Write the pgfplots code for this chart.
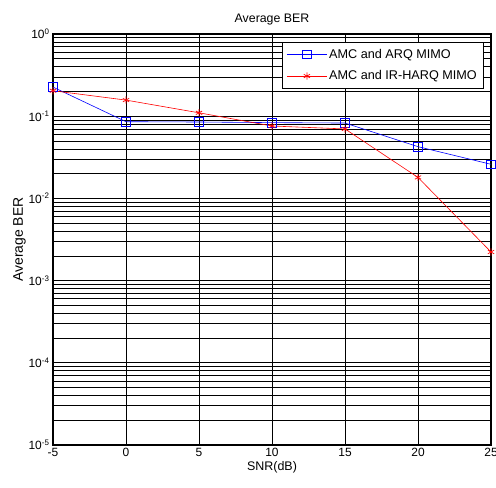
\documentclass[border=0pt]{standalone}
\usepackage{fontspec}
\setmainfont{Liberation Sans}
\usepackage{pgfplots}
\pgfplotsset{compat=1.18}

\begin{document}
\begin{tikzpicture}[x=1bp,y=1bp]
  \begin{axis}[
    name=ax,
    scale only axis,
    width=438bp,
    height=411bp,
    ymode=log,
    xmin=-5, xmax=25,
    ymin=1e-5, ymax=1,
    xtick={-5,0,5,10,15,20,25},
    ytick={1e-5,1e-4,1e-3,1e-2,1e-1,1},
    yticklabels={10\textsuperscript{-5},10\textsuperscript{-4},10\textsuperscript{-3},10\textsuperscript{-2},10\textsuperscript{-1},10\textsuperscript{0}},
    /pgf/number format/assume math mode=true,
    ticklabel style={font=\fontsize{12}{14}\selectfont},
    tick align=inside,
    major tick length=0pt,
    minor tick length=0pt,
    xmajorgrids, ymajorgrids, yminorgrids,
    major grid style={black, line width=0.9pt},
    minor grid style={black, line width=0.7pt},
    axis line style={black, line width=1.3pt},
    title={Average BER},
    title style={font=\fontsize{12.4}{14}\selectfont, yshift=-1bp},
    xlabel={SNR(dB)},
    ylabel={Average BER},
    xlabel style={font=\fontsize{12.5}{14}\selectfont, yshift=2bp},
    ylabel style={font=\fontsize{14}{16}\selectfont, yshift=-4bp},
    legend style={at={(0.982,0.981)}, anchor=north east, draw=black, line width=0.6pt,
      fill=white, font=\fontsize{12.7}{15}\selectfont, row sep=7bp,
      inner xsep=4bp, inner ysep=5bp},
    legend cell align=left,
    legend image code/.code={
      \draw[mark repeat=2, mark phase=2] plot coordinates {(0bp,0bp) (20bp,0bp) (40bp,0bp)};
    },
  ]
    \addplot[blue, line width=0.6pt, mark=square, mark size=4.3bp,
      mark options={solid, line width=0.6pt}] coordinates {
      (-5,0.226)
      (0,0.0857)
      (5,0.0850)
      (10,0.0835)
      (15,0.0826)
      (20,0.0426)
      (25,0.0260)
    };
    \addlegendentry{AMC and ARQ MIMO}
    \addplot[red, line width=0.6pt, mark=asterisk, mark size=3.6bp,
      mark options={solid, line width=0.7pt}] coordinates {
      (-5,0.204)
      (0,0.157)
      (5,0.110)
      (10,0.076)
      (15,0.070)
      (20,0.0180)
      (25,0.00223)
    };
    \addlegendentry{AMC and IR-HARQ MIMO}
  \end{axis}
  \path (ax.south west) ++(-53bp,-43bp) coordinate (bl);
  \path (ax.north east) ++(5bp,34bp) coordinate (tr);
  \pgfresetboundingbox
  \path[use as bounding box] (bl) rectangle (tr);
\end{tikzpicture}
\end{document}
